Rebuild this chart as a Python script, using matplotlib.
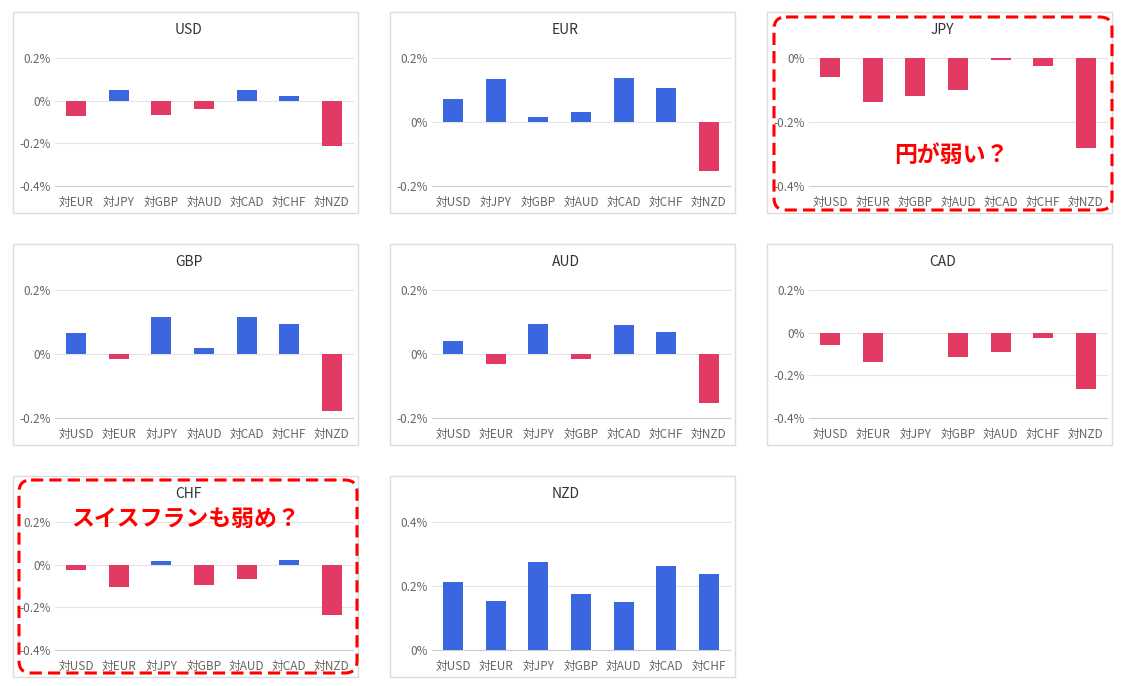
import matplotlib
matplotlib.use('Agg')
import matplotlib.pyplot as plt
from matplotlib.patches import Rectangle, FancyBboxPatch

plt.rcParams['font.family'] = ['Noto Sans CJK JP', 'DejaVu Sans']

# data (% change vs each currency)
usd_labels = ['対EUR', '対JPY', '対GBP', '対AUD', '対CAD', '対CHF', '対NZD']
usd_vals = [-0.072, 0.051, -0.068, -0.040, 0.051, 0.023, -0.211]
eur_labels = ['対USD', '対JPY', '対GBP', '対AUD', '対CAD', '対CHF', '対NZD']
eur_vals = [0.071, 0.135, 0.017, 0.032, 0.139, 0.107, -0.154]
jpy_labels = ['対USD', '対EUR', '対GBP', '対AUD', '対CAD', '対CHF', '対NZD']
jpy_vals = [-0.060, -0.136, -0.120, -0.099, -0.007, -0.026, -0.281]
gbp_labels = ['対USD', '対EUR', '対JPY', '対AUD', '対CAD', '対CHF', '対NZD']
gbp_vals = [0.067, -0.015, 0.117, 0.020, 0.117, 0.095, -0.177]
aud_labels = ['対USD', '対EUR', '対JPY', '対GBP', '対CAD', '対CHF', '対NZD']
aud_vals = [0.042, -0.030, 0.095, -0.017, 0.092, 0.070, -0.153]
cad_labels = ['対USD', '対EUR', '対JPY', '対GBP', '対AUD', '対CHF', '対NZD']
cad_vals = [-0.058, -0.137, 0.0, -0.114, -0.091, -0.026, -0.262]
chf_labels = ['対USD', '対EUR', '対JPY', '対GBP', '対AUD', '対CAD', '対NZD']
chf_vals = [-0.026, -0.105, 0.017, -0.095, -0.068, 0.023, -0.234]
nzd_labels = ['対USD', '対EUR', '対JPY', '対GBP', '対AUD', '対CAD', '対CHF']
nzd_vals = [0.2125, 0.153, 0.275, 0.175, 0.150, 0.2625, 0.2375]

panels = [
    ('USD', usd_labels, usd_vals, [0.2, 0, -0.2, -0.4]),
    ('EUR', eur_labels, eur_vals, [0.2, 0, -0.2]),
    ('JPY', jpy_labels, jpy_vals, [0, -0.2, -0.4]),
    ('GBP', gbp_labels, gbp_vals, [0.2, 0, -0.2]),
    ('AUD', aud_labels, aud_vals, [0.2, 0, -0.2]),
    ('CAD', cad_labels, cad_vals, [0.2, 0, -0.2, -0.4]),
    ('CHF', chf_labels, chf_vals, [0.2, 0, -0.2, -0.4]),
    ('NZD', nzd_labels, nzd_vals, [0.4, 0.2, 0]),
]

BLUE = '#3a66e0'
RED = '#e23a62'
W, H = 1124, 686

fig = plt.figure(figsize=(W / 100, H / 100), dpi=100)
fig.patch.set_facecolor('white')

# overlay in pixel coordinates for frames, titles and notes
ov = fig.add_axes([0, 0, 1, 1], zorder=5)
ov.set_xlim(0, W)
ov.set_ylim(H, 0)
ov.axis('off')
ov.patch.set_alpha(0)

col_x = [13, 390, 767]
row_y = [12, 244, 476]
pw, ph = 345, 201


def fmt(v):
    if v == 0:
        return '0%'
    return '%s%.1f%%' % ('-' if v < 0 else '', abs(v))


for i, (name, labels, vals, ticks) in enumerate(panels):
    px = col_x[i % 3]
    py = row_y[i // 3]
    ov.add_patch(Rectangle((px, py), pw, ph, fill=False, edgecolor='#dcdcdc', lw=1))
    ov.text(px + pw / 2 + 3, py + 18, name, ha='center', va='center', fontsize=10, color='#333333')

    left = px + 42
    top = py + 46
    aw, ah = 298, 128
    ax = fig.add_axes([left / W, 1 - (top + ah) / H, aw / W, ah / H])
    x = range(len(vals))
    colors = [BLUE if v >= 0 else RED for v in vals]
    ax.bar(x, vals, width=0.47, color=colors, zorder=3)
    ax.set_xlim(-0.5, len(vals) - 0.5)
    ax.set_ylim(min(ticks), max(ticks))
    ax.set_yticks(ticks)
    ax.set_yticklabels([fmt(t) for t in ticks])
    ax.set_xticks(list(x))
    ax.set_xticklabels(labels)
    for s in ax.spines.values():
        s.set_visible(False)
    for t in ticks:
        ax.axhline(t, color='#e4e4e4', lw=0.8, zorder=1, clip_on=False)
    ax.axhline(min(ticks), color='#cfcfcf', lw=0.8, zorder=2, clip_on=False)
    ax.tick_params(axis='both', length=0, labelsize=8.5, colors='#666666')
    ax.tick_params(axis='x', pad=7)
    ax.tick_params(axis='y', pad=3)
    ax.patch.set_alpha(0)

# red dashed callouts
ov.add_patch(FancyBboxPatch((774, 17), 338, 193, boxstyle='round,pad=0,rounding_size=12',
                            fill=False, edgecolor='#ff0000', lw=2.2, linestyle=(0, (4, 2))))
ov.text(951, 155, '円が弱い？', ha='center', va='center', fontsize=16.5, fontweight='bold', color='#ff0000')
ov.add_patch(FancyBboxPatch((19, 480), 338, 193, boxstyle='round,pad=0,rounding_size=12',
                            fill=False, edgecolor='#ff0000', lw=2.2, linestyle=(0, (4, 2))))
ov.text(186, 519, 'スイスフランも弱め？', ha='center', va='center', fontsize=16.5, fontweight='bold', color='#ff0000')

fig.savefig('out.png', dpi=100)
